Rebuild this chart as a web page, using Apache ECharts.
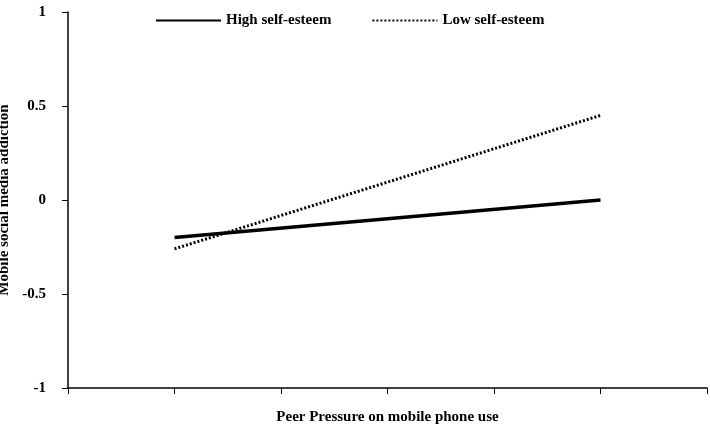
<!DOCTYPE html>
<html><head><meta charset="utf-8">
<script src="https://cdn.jsdelivr.net/npm/echarts@6/dist/echarts.min.js"></script>
<style>html,body{margin:0;padding:0;background:#fff}#c{width:710px;height:427px}</style>
</head><body><div id="c"></div>
<script>
const xPositions = [1, 5];
const highSelfEsteem = [-0.2, 0.0];
const lowSelfEsteem = [-0.26, 0.45];
const yTicks = [-1, -0.5, 0, 0.5, 1];
const font = '"Liberation Serif","Times New Roman",serif';
const chart = echarts.init(document.getElementById('c'));
chart.setOption({
  animation:false,
  grid:{left:68,right:3,top:12,bottom:39,containLabel:false,outerBoundsMode:'none'},
  legend:{top:8,left:150,itemGap:40,itemWidth:65,itemHeight:10,
    itemStyle:{opacity:0},
    textStyle:{fontFamily:font,fontWeight:'bold',fontSize:15,color:'#000'},
    data:['High self-esteem','Low self-esteem']},
  xAxis:{type:'value',min:0,max:6,interval:1,
    name:'Peer Pressure on mobile phone use',nameLocation:'middle',nameGap:22,
    nameTextStyle:{fontFamily:font,fontWeight:'bold',fontSize:15,color:'#000'},
    axisLine:{onZero:false,lineStyle:{color:'#000',width:1.5}},
    axisTick:{show:true,length:6,lineStyle:{color:'#000'}},
    axisLabel:{show:false},splitLine:{show:false}},
  yAxis:{type:'value',min:-1,max:1,interval:0.5,
    name:'Mobile social media addiction',nameLocation:'middle',nameGap:50,
    nameTextStyle:{fontFamily:font,fontWeight:'bold',fontSize:15,color:'#000'},
    axisLine:{show:true,onZero:false,lineStyle:{color:'#000',width:1.5}},
    axisTick:{show:true,length:6,lineStyle:{color:'#000'}},
    axisLabel:{fontFamily:font,fontWeight:'bold',fontSize:15,color:'#000',margin:22,
      formatter:v=>yTicks.includes(v)?String(v):''},
    splitLine:{show:false}},
  series:[
    {name:'High self-esteem',type:'line',symbol:'none',showSymbol:false,
      data:xPositions.map((x,i)=>[x,highSelfEsteem[i]]),
      lineStyle:{color:'#000',width:3.5},itemStyle:{color:'#000'}},
    {name:'Low self-esteem',type:'line',symbol:'none',showSymbol:false,
      data:xPositions.map((x,i)=>[x,lowSelfEsteem[i]]),
      lineStyle:{color:'#000',width:3,type:[2,2]},itemStyle:{color:'#000'}}
  ]
});
</script></body></html>
